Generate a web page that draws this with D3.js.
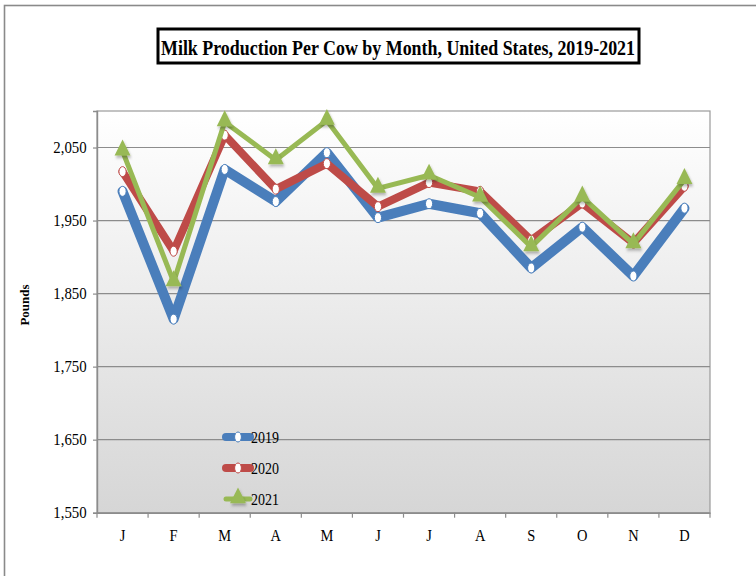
<!DOCTYPE html>
<html>
<head>
<meta charset="utf-8">
<script src="https://cdn.jsdelivr.net/npm/d3@7/dist/d3.min.js"></script>
<style>
  html, body { margin: 0; padding: 0; background: #fff; }
  svg { display: block; }
  text { font-family: "Liberation Serif", "Times New Roman", "DejaVu Serif", serif; fill: #000; }
</style>
</head>
<body>
<svg id="chart" width="756" height="576"></svg>
<script>
// Milk production per cow (pounds), by month
const months = ["J", "F", "M", "A", "M", "J", "J", "A", "S", "O", "N", "D"];
const values2019 = [1990, 1815, 2020, 1976, 2043, 1954, 1973, 1960, 1885, 1941, 1874, 1967];
const values2020 = [2017, 1908, 2067, 1993, 2028, 1969, 2002, 1990, 1923, 1974, 1919, 1997];
const values2021 = [2045, 1866, 2085, 2033, 2087, 1994, 2012, 1982, 1914, 1982, 1918, 2006];
const yTicks = [1550, 1650, 1750, 1850, 1950, 2050];
const seriesNames = ["2019", "2020", "2021"];

const series = [
  { name: seriesNames[0], values: values2019, color: "#4A7EBB", width: 10, marker: "circle" },
  { name: seriesNames[1], values: values2020, color: "#BE4B48", width: 8, marker: "circle" },
  { name: seriesNames[2], values: values2021, color: "#98B954", width: 5, marker: "triangle" }
];

const svg = d3.select("#chart");
const plot = { left: 97, right: 710, top: 111, bottom: 512.7 };
const serif = "'Liberation Serif', 'Times New Roman', serif";

const defs = svg.append("defs");
const grad = defs.append("linearGradient")
  .attr("id", "plotBg").attr("x1", 0).attr("y1", 0).attr("x2", 0).attr("y2", 1);
grad.append("stop").attr("offset", "0%").attr("stop-color", "#ffffff");
grad.append("stop").attr("offset", "100%").attr("stop-color", "#d6d6d6");

const shadow = defs.append("filter").attr("id", "markShadow")
  .attr("x", "-50%").attr("y", "-50%").attr("width", "200%").attr("height", "200%");
shadow.append("feDropShadow").attr("dx", 1).attr("dy", 2).attr("stdDeviation", 1.2)
  .attr("flood-color", "#000").attr("flood-opacity", 0.3);

// outer frame
svg.append("rect")
  .attr("x", 4.5).attr("y", 5.5).attr("width", 800).attr("height", 700)
  .attr("fill", "none").attr("stroke", "#8a8a8a").attr("stroke-width", 1.6);

// scales
const x = d3.scaleBand().domain(d3.range(months.length))
  .range([plot.left, plot.right]).paddingInner(0).paddingOuter(0);
const y = d3.scaleLinear().domain([1550, 2100]).range([plot.bottom, plot.top]);
const cx = i => x(i) + x.bandwidth() / 2;

// plot background
svg.append("rect")
  .attr("x", plot.left).attr("y", plot.top)
  .attr("width", plot.right - plot.left).attr("height", plot.bottom - plot.top)
  .attr("fill", "url(#plotBg)").attr("stroke", "#9a9a9a").attr("stroke-width", 1.2);

// gridlines
svg.append("g").selectAll("line").data(yTicks.slice(1)).join("line")
  .attr("x1", plot.left).attr("x2", plot.right)
  .attr("y1", d => y(d)).attr("y2", d => y(d))
  .attr("stroke", "#8c8c8c").attr("stroke-width", 1.2);

// y axis
const yAxis = d3.axisLeft(y).tickValues(yTicks).tickSize(4).tickPadding(0)
  .tickFormat(d3.format(","));
const gy = svg.append("g").attr("transform", `translate(${plot.left},0)`).call(yAxis);
gy.select(".domain").attr("stroke", "#8c8c8c").attr("stroke-width", 1.4);
gy.selectAll(".tick line").attr("stroke", "#8c8c8c").attr("stroke-width", 1.2);
gy.selectAll(".tick text")
  .attr("x", -11.5).attr("transform", "scale(0.9,1)")
  .style("font-family", serif).style("font-size", "16.5px").attr("fill", "#000");

// x axis: ticks on band boundaries, labels centred in bands
const xAxis = d3.axisBottom(x).tickSize(0).tickPadding(16).tickFormat(i => months[i]);
const gx = svg.append("g").attr("transform", `translate(0,${plot.bottom})`).call(xAxis);
gx.select(".domain").attr("stroke", "#8c8c8c").attr("stroke-width", 1.4);
gx.selectAll(".tick text")
  .attr("transform", "scale(0.85,1)")
  .style("font-family", serif).style("font-size", "17px").attr("fill", "#000");
svg.append("g").selectAll("line").data(d3.range(months.length + 1)).join("line")
  .attr("x1", i => plot.left + i * x.step()).attr("x2", i => plot.left + i * x.step())
  .attr("y1", plot.bottom).attr("y2", plot.bottom + 5)
  .attr("stroke", "#8c8c8c").attr("stroke-width", 1.2);

// y axis title
svg.append("text")
  .attr("transform", "translate(29,305) rotate(-90)")
  .attr("text-anchor", "middle")
  .style("font-size", "13px").style("font-weight", "bold")
  .text("Pounds");

// series
const line = d3.line().x((d, i) => cx(i)).y(d => y(d));
const triangle = d3.symbol().type(d3.symbolTriangle).size(110);

series.forEach(s => {
  const g = svg.append("g");
  g.append("path").datum(s.values)
    .attr("d", line).attr("fill", "none")
    .attr("stroke", s.color).attr("stroke-width", s.width)
    .attr("stroke-linejoin", "round").attr("stroke-linecap", "round");
  if (s.marker === "circle") {
    g.selectAll("ellipse").data(s.values).join("ellipse")
      .attr("cx", (d, i) => cx(i)).attr("cy", d => y(d))
      .attr("rx", 3.6).attr("ry", 5)
      .attr("fill", "#fff").attr("stroke", s.color).attr("stroke-width", 1);
  } else {
    g.selectAll("path.mk").data(s.values).join("path").attr("class", "mk")
      .attr("d", triangle)
      .attr("transform", (d, i) => `translate(${cx(i)},${y(d) - 1}) scale(1,1.15)`)
      .attr("fill", s.color).attr("filter", "url(#markShadow)");
  }
});

// legend
const legend = svg.append("g");
const legendY = [437, 468, 499];
series.forEach((s, k) => {
  const ly = legendY[k];
  legend.append("line")
    .attr("x1", 226).attr("x2", 250).attr("y1", ly).attr("y2", ly)
    .attr("stroke", s.color).attr("stroke-width", s.marker === "circle" ? 8 : 5)
    .attr("stroke-linecap", "round");
  if (s.marker === "circle") {
    legend.append("ellipse").attr("cx", 238).attr("cy", ly).attr("rx", 3.4).attr("ry", 5)
      .attr("fill", "#fff").attr("stroke", s.color).attr("stroke-width", 1);
  } else {
    legend.append("path").attr("d", triangle)
      .attr("transform", `translate(238,${ly - 1}) scale(1,1.15)`)
      .attr("fill", s.color).attr("filter", "url(#markShadow)");
  }
  legend.append("text")
    .attr("transform", `translate(251,${ly + 6}) scale(0.8,1)`)
    .style("font-family", serif).style("font-size", "17.5px")
    .text(s.name);
});

// title box
svg.append("rect")
  .attr("x", 158).attr("y", 29).attr("width", 481).attr("height", 34)
  .attr("fill", "#fff").attr("stroke", "#000").attr("stroke-width", 3);
svg.append("text")
  .attr("x", 398).attr("y", 55)
  .attr("text-anchor", "middle")
  .attr("textLength", 474).attr("lengthAdjust", "spacingAndGlyphs")
  .style("font-family", serif).style("font-size", "22px").style("font-weight", "bold")
  .text("Milk Production Per Cow by Month, United States, 2019-2021");
</script>
</body>
</html>
